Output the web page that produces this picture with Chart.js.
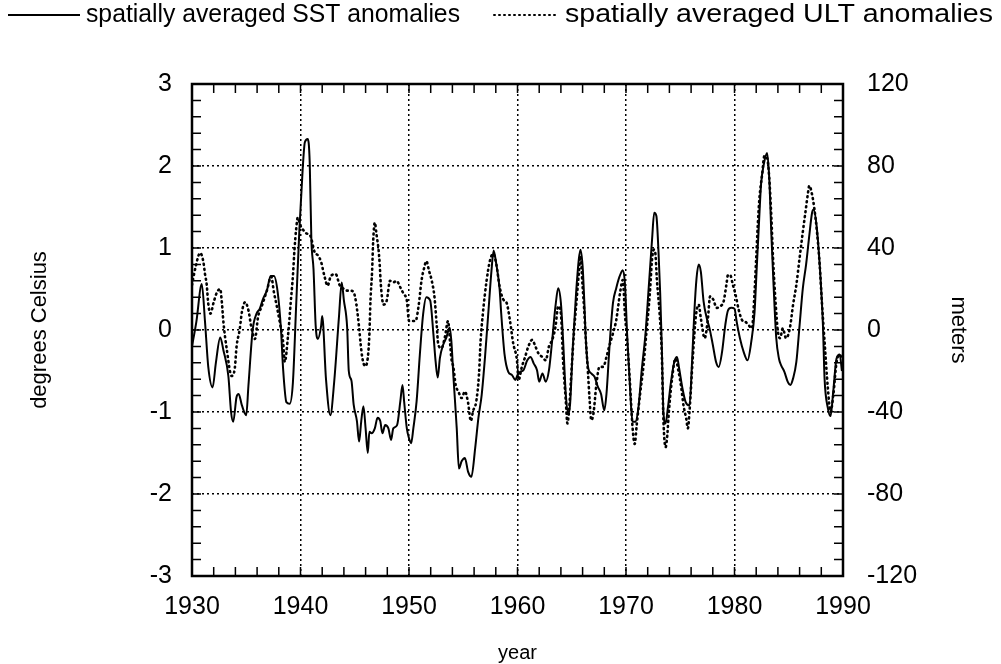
<!DOCTYPE html>
<html>
<head>
<meta charset="utf-8">
<script src="https://cdn.jsdelivr.net/npm/chart.js@4.4.1/dist/chart.umd.min.js"></script>
<style>
  html, body { margin: 0; padding: 0; background: #fff; }
</style>
</head>
<body>
<canvas id="grafica" width="1001" height="664"></canvas>
<script>
// ==============================
// DATOS
// ==============================
const sstYears = [
  1930.0, 1930.4, 1930.9, 1931.2, 1931.5, 1931.9, 1932.2, 1932.6, 1932.9, 1933.35,
  1933.6, 1933.8, 1934.1, 1934.3, 1934.6, 1935.0, 1935.2, 1935.6, 1935.95, 1936.25,
  1936.55, 1936.9, 1937.25, 1937.55, 1937.9, 1938.2, 1938.4, 1938.7, 1939.0, 1939.3,
  1939.6, 1939.9, 1940.2, 1940.4, 1940.67, 1940.85, 1941.0, 1941.2, 1941.4, 1941.6,
  1941.9, 1942.0, 1942.35, 1942.75, 1943.1, 1943.55, 1943.8, 1944.0, 1944.3, 1944.45,
  1944.7, 1944.9, 1945.2, 1945.4, 1945.6, 1945.8, 1946.0, 1946.2, 1946.35, 1946.55,
  1946.85, 1947.1, 1947.35, 1947.55, 1947.8, 1948.1, 1948.35, 1948.55, 1948.9, 1949.2,
  1949.4, 1949.55, 1949.8, 1950.0, 1950.2, 1950.4, 1950.7, 1951.0, 1951.3, 1951.6,
  1951.95, 1952.25, 1952.45, 1952.65, 1952.85, 1953.15, 1953.45, 1953.75, 1953.9, 1954.1,
  1954.4, 1954.6, 1954.85, 1955.15, 1955.45, 1955.75, 1956.1, 1956.4, 1956.7, 1957.0,
  1957.3, 1957.6, 1957.8, 1958.05, 1958.35, 1958.5, 1958.8, 1959.15, 1959.5, 1959.8,
  1960.0, 1960.25, 1960.55, 1960.9, 1961.2, 1961.5, 1961.8, 1962.0, 1962.3, 1962.6,
  1962.9, 1963.2, 1963.5, 1963.75, 1964.0, 1964.2, 1964.45, 1964.7, 1964.85, 1965.1,
  1965.4, 1965.65, 1965.8, 1966.0, 1966.15, 1966.3, 1966.5, 1966.8, 1967.1, 1967.4,
  1967.7, 1968.0, 1968.2, 1968.5, 1968.8, 1969.1, 1969.4, 1969.7, 1969.9, 1970.1,
  1970.4, 1970.6, 1970.85, 1971.15, 1971.45, 1971.8, 1972.1, 1972.4, 1972.6, 1972.8,
  1973.0, 1973.15, 1973.3, 1973.45, 1973.65, 1973.85, 1974.15, 1974.45, 1974.7, 1974.9,
  1975.2, 1975.5, 1975.85, 1976.1, 1976.3, 1976.5, 1976.7, 1976.9, 1977.15, 1977.45,
  1977.7, 1978.0, 1978.3, 1978.55, 1978.85, 1979.15, 1979.4, 1979.7, 1980.0, 1980.2,
  1980.5, 1980.85, 1981.2, 1981.55, 1981.85, 1982.05, 1982.25, 1982.45, 1982.7, 1983.0,
  1983.2, 1983.4, 1983.6, 1983.85, 1984.1, 1984.3, 1984.6, 1984.9, 1985.15, 1985.4,
  1985.7, 1986.0, 1986.3, 1986.6, 1986.9, 1987.15, 1987.3, 1987.55, 1987.85, 1988.15,
  1988.3, 1988.6, 1988.85, 1989.1, 1989.4, 1989.7, 1989.9
];
const sstValues = [
  -0.2, 0.1, 0.56, 0.1, -0.45, -0.7, -0.4, -0.09, -0.25, -0.56,
  -1.0, -1.12, -0.82, -0.78, -0.92, -1.04, -0.68, 0.01, 0.2, 0.26,
  0.38, 0.48, 0.66, 0.66, 0.46, 0.01, -0.48, -0.88, -0.9, -0.64,
  0.3, 1.23, 1.96, 2.29, 2.33, 2.04, 1.11, 0.74, 0.05, -0.11,
  0.05, 0.17, -0.6, -1.04, -0.64, 0.17, 0.58, 0.36, 0.03, -0.5,
  -0.62, -0.91, -1.11, -1.36, -1.11, -0.93, -1.2, -1.5, -1.24, -1.26,
  -1.2, -1.07, -1.11, -1.26, -1.16, -1.2, -1.34, -1.2, -1.16, -0.87,
  -0.67, -0.87, -1.2, -1.32, -1.38, -1.2, -0.87, -0.3, 0.19, 0.4,
  0.36, -0.05, -0.38, -0.58, -0.34, -0.18, -0.09, 0.03, -0.13, -0.58,
  -1.2, -1.69, -1.6, -1.56, -1.73, -1.79, -1.44, -1.07, -0.79, -0.34,
  0.19, 0.72, 0.97, 0.8, 0.5, 0.2, -0.29, -0.51, -0.55, -0.61,
  -0.55, -0.51, -0.49, -0.37, -0.33, -0.41, -0.49, -0.63, -0.53, -0.63,
  -0.49, -0.12, 0.29, 0.51, 0.33, -0.12, -0.78, -1.02, -0.9, -0.2,
  0.45, 0.86, 0.98, 0.78, 0.37, -0.12, -0.45, -0.53, -0.57, -0.69,
  -0.78, -0.98, -0.78, -0.16, 0.33, 0.51, 0.65, 0.73, 0.57, -0.04,
  -0.78, -1.12, -1.12, -0.94, -0.49, -0.04, 0.53, 1.1, 1.43, 1.39,
  0.94, 0.45, -0.2, -1.0, -1.14, -0.96, -0.63, -0.39, -0.33, -0.47,
  -0.71, -0.88, -0.92, -0.35, 0.22, 0.63, 0.8, 0.71, 0.35, 0.14,
  0.02, -0.18, -0.39, -0.45, -0.27, 0.06, 0.24, 0.27, 0.26, 0.1,
  -0.1, -0.27, -0.37, -0.14, 0.22, 0.76, 1.29, 1.78, 2.02, 2.16,
  1.86, 1.16, 0.55, -0.1, -0.35, -0.43, -0.51, -0.63, -0.67, -0.59,
  -0.39, 0.06, 0.51, 0.8, 1.16, 1.43, 1.47, 1.29, 0.8, 0.06,
  -0.59, -0.95, -1.05, -0.75, -0.35, -0.3, -0.5
];

const ultYears = [
  1930.0, 1930.3, 1930.75, 1931.05, 1931.2, 1931.35, 1931.5, 1931.7, 1932.0, 1932.3,
  1932.6, 1932.75, 1932.9, 1933.2, 1933.65, 1933.95, 1934.1, 1934.4, 1934.6, 1934.9,
  1935.2, 1935.5, 1935.8, 1936.1, 1936.4, 1936.9, 1937.3, 1937.55, 1937.8, 1938.1,
  1938.4, 1938.55, 1938.85, 1939.1, 1939.3, 1939.45, 1939.6, 1939.75, 1940.0, 1940.2,
  1940.5, 1940.9, 1941.3, 1941.6, 1941.9, 1942.2, 1942.5, 1942.8, 1943.25, 1943.6,
  1944.0, 1944.3, 1944.6, 1944.9, 1945.15, 1945.4, 1945.55, 1945.7, 1945.95, 1946.2,
  1946.35, 1946.45, 1946.6, 1946.7, 1946.85, 1947.0, 1947.2, 1947.3, 1947.4, 1947.65,
  1947.95, 1948.25, 1948.55, 1948.85, 1949.2, 1949.5, 1949.8, 1950.0, 1950.3, 1950.6,
  1950.9, 1951.15, 1951.4, 1951.6, 1951.85, 1952.1, 1952.35, 1952.55, 1952.7, 1953.0,
  1953.3, 1953.6, 1953.8, 1953.9, 1954.1, 1954.3, 1954.55, 1954.85, 1955.15, 1955.45,
  1955.7, 1955.9, 1956.2, 1956.45, 1956.6, 1956.8, 1957.15, 1957.45, 1957.75, 1958.05,
  1958.35, 1958.7, 1959.0, 1959.3, 1959.6, 1959.95, 1960.1, 1960.4, 1960.7, 1961.0,
  1961.35, 1961.65, 1961.95, 1962.3, 1962.6, 1962.9, 1963.2, 1963.5, 1963.75, 1964.0,
  1964.2, 1964.45, 1964.6, 1964.75, 1965.0, 1965.2, 1965.45, 1965.65, 1965.8, 1966.0,
  1966.15, 1966.3, 1966.5, 1966.65, 1966.8, 1967.0, 1967.25, 1967.55, 1967.9, 1968.2,
  1968.45, 1968.8, 1969.1, 1969.45, 1969.7, 1969.9, 1970.1, 1970.35, 1970.6, 1970.8,
  1971.0, 1971.3, 1971.6, 1971.9, 1972.2, 1972.4, 1972.55, 1972.7, 1972.85, 1973.1,
  1973.3, 1973.45, 1973.65, 1973.8, 1973.95, 1974.25, 1974.55, 1974.85, 1975.1, 1975.3,
  1975.55, 1975.7, 1975.85, 1976.15, 1976.45, 1976.7, 1976.9, 1977.25, 1977.55, 1977.75,
  1978.05, 1978.35, 1978.7, 1979.0, 1979.25, 1979.4, 1979.6, 1979.85, 1980.1, 1980.4,
  1980.7, 1981.0, 1981.3, 1981.6, 1981.85, 1982.0, 1982.15, 1982.3, 1982.55, 1982.75,
  1983.0, 1983.2, 1983.4, 1983.55, 1983.8, 1984.0, 1984.2, 1984.45, 1984.75, 1985.1,
  1985.4, 1985.7, 1986.0, 1986.3, 1986.55, 1986.75, 1986.9, 1987.15, 1987.35, 1987.6,
  1987.85, 1988.05, 1988.3, 1988.6, 1988.85, 1989.1, 1989.4, 1989.7, 1989.9
];
const ultMeters = [
  22, 30, 37.6, 33.2, 27.2, 22.4, 12.8, 8, 13.6, 18.4,
  20, 13.6, 3.6, -9.2, -22.4, -18.4, -8.4, 0.4, 8.8, 13.6,
  9.6, 0.4, -4.4, 6.8, 11.2, 19.2, 26, 18.4, 12, 3.6,
  -6, -15.6, -2.8, 13.6, 26.4, 39.6, 49.2, 54.8, 50.8, 49.2,
  47.2, 46, 38, 36.4, 33.2, 26.4, 21.6, 26.4, 27.2, 22,
  20, 19.2, 19.2, 18.4, 12.4, 1.2, -7.2, -13.6, -17.6, -13.6,
  -2, 14.4, 28.8, 43.6, 52.4, 46.8, 38.8, 32, 22.4, 12.4,
  14.4, 24, 23.2, 24, 20.8, 17.6, 14.4, 4.4, 4.4, 4.4,
  12.4, 24, 30.4, 33.6, 28.8, 24, 16, 2.8, -7.2, -8.8,
  -3.6, 4.4, -7.2, -13.6, -18.4, -26.8, -30, -33.2, -30, -35.6,
  -44.4, -39.6, -34.8, -21.6, -5.2, 7.6, 24, 33.6, 37.2, 32,
  21.2, 14.8, 13.2, 4.8, -6.4, -14.8, -24.4, -18, -13.2, -8,
  -4.8, -8, -11.6, -13.2, -14.8, -8, -4.8, 1.6, 11.6, 8,
  -14.8, -34.4, -45.6, -39.2, -18, -1.6, 14.8, 27.6, 36, 21.2,
  9.6, -4.8, -21.2, -34.4, -44, -40.8, -27.6, -18, -18, -13.2,
  -8, -1.6, 4.8, 18, 24.4, 8, -4.8, -24.4, -47.2, -55.6,
  -45.6, -31.2, -18, 0, 18, 34.4, 39.2, 37.6, 24.4, 8,
  -11.6, -44, -57.2, -51.6, -40, -23.6, -14, -20.4, -28.4, -36.8,
  -43.2, -48, -40, -14, 7.2, 12.4, 5.6, -4, 5.6, 16.4,
  14.8, 10.8, 11.6, 14, 22, 26.8, 26.8, 22, 17.2, 9.6,
  4.8, 4, 2.4, 0.8, 18.8, 35.2, 51.6, 64.4, 76, 84.8,
  84, 74.4, 54.8, 35.2, 12.4, -0.8, -4, 0.8, -4, 0.8,
  12.4, 22, 35.2, 48, 58, 66, 70.4, 66, 59.6, 48,
  32, 14, -5.6, -28, -40, -32, -16, -12, -14
];

const yearTicks = [1930, 1940, 1950, 1960, 1970, 1980, 1990];
const celsiusTicks = [-3, -2, -1, 0, 1, 2, 3];
const meterTicks = [-120, -80, -40, 0, 40, 80, 120];
const legendLabels = ['spatially averaged SST anomalies', 'spatially averaged ULT anomalies'];

// ==============================
// CANVAS
// ==============================
const canvas = document.getElementById('grafica');
const ctx = canvas.getContext('2d');

const FONT = "'Liberation Sans', Arial, Helvetica, sans-serif";
Chart.defaults.font.family = FONT;
Chart.defaults.color = '#000';

// rejilla punteada (en v4 el guion va en border.dash)
const gridDotted = { color: '#000', lineWidth: 1.5, drawTicks: false };
const borderDotted = { display: false, dash: [2, 3] };

// texto de leyenda estirado al ancho del original
function textoAncho(ctx, txt, x, y, ancho) {
  const w = ctx.measureText(txt).width;
  ctx.save();
  ctx.translate(x, y);
  ctx.scale(ancho / w, 1);
  ctx.fillText(txt, 0, 0);
  ctx.restore();
}

// marco, ticks interiores y leyenda
const marcoPlugin = {
  id: 'marco',
  afterDraw(chart) {
    const { ctx, chartArea, scales } = chart;
    const { left, right, top, bottom } = chartArea;
    ctx.save();
    ctx.strokeStyle = '#000';
    ctx.setLineDash([]);
    ctx.lineWidth = 1.5;

    ctx.beginPath();
    for (let yr = 1932; yr < 1990; yr += 2) {
      const x = scales.x.getPixelForValue(yr);
      ctx.moveTo(x, bottom); ctx.lineTo(x, bottom - 9);
      ctx.moveTo(x, top); ctx.lineTo(x, top + 9);
    }
    for (let i = -14; i <= 14; i++) {
      const y = scales.y.getPixelForValue(i * 0.2);
      ctx.moveTo(left, y); ctx.lineTo(left + 9, y);
      ctx.moveTo(right, y); ctx.lineTo(right - 9, y);
    }
    ctx.stroke();

    ctx.lineWidth = 2.5;
    ctx.strokeRect(left, top, right - left, bottom - top);

    // Leyenda
    const ly = 15;
    ctx.lineWidth = 2;
    ctx.beginPath();
    ctx.moveTo(8, ly); ctx.lineTo(80, ly);
    ctx.stroke();

    ctx.setLineDash([1, 4]);
    ctx.lineCap = 'round';
    ctx.beginPath();
    ctx.moveTo(494, ly); ctx.lineTo(556, ly);
    ctx.stroke();

    ctx.font = '25px ' + FONT;
    ctx.fillStyle = '#000';
    ctx.textBaseline = 'middle';
    ctx.textAlign = 'left';
    textoAncho(ctx, legendLabels[0], 86, ly, 374);
    textoAncho(ctx, legendLabels[1], 565, ly, 428);
    ctx.restore();
  }
};

// ==============================
// CHART
// ==============================
new Chart(ctx, {
  type: 'line',
  data: {
    datasets: [
      {
        label: legendLabels[0],
        data: sstYears.map((yr, i) => ({ x: yr, y: sstValues[i] })),
        yAxisID: 'y',
        borderColor: '#000',
        borderWidth: 2,
        pointRadius: 0,
        cubicInterpolationMode: 'monotone',
        fill: false
      },
      {
        label: legendLabels[1],
        data: ultYears.map((yr, i) => ({ x: yr, y: ultMeters[i] })),
        yAxisID: 'y2',
        borderColor: '#000',
        borderWidth: 2.6,
        borderDash: [1, 4],
        borderCapStyle: 'round',
        pointRadius: 0,
        cubicInterpolationMode: 'monotone',
        fill: false
      }
    ]
  },
  options: {
    responsive: false,
    animation: false,
    layout: { padding: { top: 84, left: 0, right: 0, bottom: 0 } },
    plugins: {
      legend: { display: false },
      tooltip: { enabled: false }
    },
    scales: {
      x: {
        type: 'linear',
        min: 1930,
        max: 1990,
        afterFit: s => { s.height = 88; },
        afterBuildTicks: s => { s.ticks = yearTicks.map(v => ({ value: v })); },
        grid: { ...gridDotted },
        border: { ...borderDotted },
        ticks: {
          padding: 16,
          font: { size: 25 },
          callback: v => String(v)
        },
        title: {
          display: true,
          text: 'year',
          font: { size: 20, lineHeight: 1 },
          padding: { top: 0, bottom: 1 }
        }
      },
      y: {
        type: 'linear',
        position: 'left',
        min: -3,
        max: 3,
        afterFit: s => { s.width = 192; },
        afterBuildTicks: s => { s.ticks = celsiusTicks.map(v => ({ value: v })); },
        grid: { ...gridDotted },
        border: { ...borderDotted },
        ticks: {
          padding: 20,
          font: { size: 25 },
          callback: v => String(v)
        },
        title: {
          display: true,
          text: 'degrees Celsius',
          font: { size: 22, lineHeight: 1 },
          padding: { top: 29 }
        }
      },
      y2: {
        type: 'linear',
        position: 'right',
        min: -120,
        max: 120,
        afterFit: s => { s.width = 158; },
        afterBuildTicks: s => { s.ticks = meterTicks.map(v => ({ value: v })); },
        grid: { display: false, drawTicks: false },
        border: { display: false },
        ticks: {
          padding: 24,
          font: { size: 25 },
          callback: v => String(v)
        },
        title: {
          display: true,
          text: 'meters',
          font: { size: 22, lineHeight: 1 },
          padding: { top: 32 }
        }
      }
    }
  },
  plugins: [marcoPlugin]
});
</script>
</body>
</html>
